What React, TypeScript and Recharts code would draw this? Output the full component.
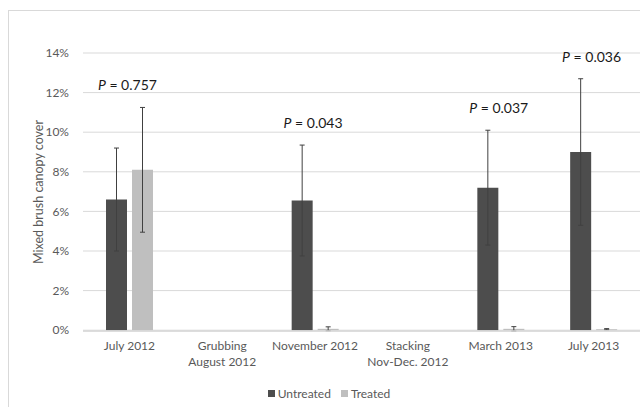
import React from 'react';
import {
  ComposedChart,
  Bar,
  Line,
  ErrorBar,
  XAxis,
  YAxis,
  CartesianGrid,
  Legend,
} from 'recharts';

// Sampling dates (two-line labels are split on \n)
const categories = [
  'July 2012',
  'Grubbing\nAugust 2012',
  'November 2012',
  'Stacking\nNov-Dec. 2012',
  'March 2013',
  'July 2013',
];

// Mixed brush canopy cover, percent
const untreated = [6.6, null, 6.55, null, 7.2, 9.0];
const untreatedErr = [2.6, null, 2.8, null, 2.9, 3.7];
const treated = [8.1, null, 0.07, null, 0.07, 0.05];
const treatedErr = [3.15, null, 0.1, null, 0.11, 0.03];
const pValues = ['0.757', null, '0.043', null, '0.037', '0.036'];

const yTicks = [0, 2, 4, 6, 8, 10, 12, 14];

const data = categories.map((name, i) => {
  const u = untreated[i];
  const t = treated[i];
  const top =
    u == null
      ? null
      : Math.max(u + (untreatedErr[i] ?? 0), (t ?? 0) + (treatedErr[i] ?? 0));
  return {
    name,
    untreated: u,
    untreatedErr: untreatedErr[i],
    treated: t,
    treatedErr: treatedErr[i],
    pTop: top,
    p: pValues[i],
  };
});

const FONT = 'Lato, "Noto Sans", sans-serif';
const TEXT = '#595959';

const CategoryTick = (props: any) => {
  const { x, y, payload } = props;
  const lines = String(payload.value).split('\n');
  return (
    <text x={x} y={y} textAnchor="middle" fill={TEXT} fontSize={12} fontFamily={FONT}>
      {lines.map((line, i) => (
        <tspan key={i} x={x} dy={i === 0 ? 11 : 16}>
          {line}
        </tspan>
      ))}
    </text>
  );
};

const PLabel = (props: any) => {
  const { x, y, index } = props;
  const p = data[index]?.p;
  if (!p || y == null) return null;
  return (
    <text
      x={x - 2}
      y={y - 17}
      textAnchor="middle"
      fill="#1a1a1a"
      fontSize={14}
      fontFamily={FONT}
    >
      <tspan fontStyle="italic">P</tspan>
      {` = ${p}`}
    </text>
  );
};

const YLabel = (props: any) => {
  const { viewBox } = props;
  const cx = viewBox.x + 38;
  const cy = viewBox.y + viewBox.height / 2;
  return (
    <text
      x={cx}
      y={cy}
      transform={`rotate(-90, ${cx}, ${cy})`}
      textAnchor="middle"
      dominantBaseline="central"
      fill={TEXT}
      fontSize={12.5}
      fontFamily={FONT}
    >
      Mixed brush canopy cover
    </text>
  );
};

const LegendContent = () => (
  <div
    style={{
      display: 'flex',
      justifyContent: 'center',
      alignItems: 'center',
      height: 30,
      fontFamily: FONT,
      fontSize: 12,
      color: TEXT,
      paddingLeft: 18,
    }}
  >
    <span style={{ width: 7, height: 7, background: '#4d4d4d', marginRight: 3 }} />
    <span style={{ marginRight: 10 }}>Untreated</span>
    <span style={{ width: 7, height: 7, background: '#bfbfbf', marginRight: 3 }} />
    <span>Treated</span>
  </div>
);

export default function App() {
  return (
    <div style={{ position: 'absolute', left: 0, top: 0, width: 640, height: 408, background: '#fff' }}>
      <div
        style={{
          position: 'absolute',
          left: 8,
          top: 10,
          width: 640,
          height: 396,
          borderLeft: '1px solid #d9d9d9',
          borderTop: '1px solid #d9d9d9',
        }}
      />
      <ComposedChart
        width={640}
        height={408}
        data={data}
        margin={{ top: 53, right: 0, bottom: 0, left: 0 }}
        barSize={21}
        barGap={5}
        style={{ position: 'absolute', left: 0, top: 0 }}
      >
        <CartesianGrid vertical={false} stroke="#d9d9d9" />
        <XAxis
          dataKey="name"
          interval={0}
          height={47}
          tick={<CategoryTick />}
          tickLine={false}
          axisLine={{ stroke: '#d9d9d9', strokeWidth: 1.5 }}
        />
        <YAxis
          width={83}
          domain={[0, 14]}
          ticks={yTicks}
          tickFormatter={(v) => `${v}%`}
          tick={{ fill: TEXT, fontSize: 12, fontFamily: FONT }}
          tickLine={false}
          axisLine={false}
          tickMargin={8}
          label={<YLabel />}
        />
        <Legend verticalAlign="bottom" height={30} content={<LegendContent />} />
        <Bar dataKey="untreated" name="Untreated" fill="#4d4d4d" isAnimationActive={false}>
          <ErrorBar dataKey="untreatedErr" width={2.5} stroke="#404040" strokeWidth={1} />
        </Bar>
        <Bar dataKey="treated" name="Treated" fill="#bfbfbf" isAnimationActive={false}>
          <ErrorBar dataKey="treatedErr" width={2.5} stroke="#404040" strokeWidth={1} />
        </Bar>
        <Line
          dataKey="pTop"
          stroke="none"
          dot={false}
          activeDot={false}
          legendType="none"
          isAnimationActive={false}
          label={<PLabel />}
        />
      </ComposedChart>
    </div>
  );
}
